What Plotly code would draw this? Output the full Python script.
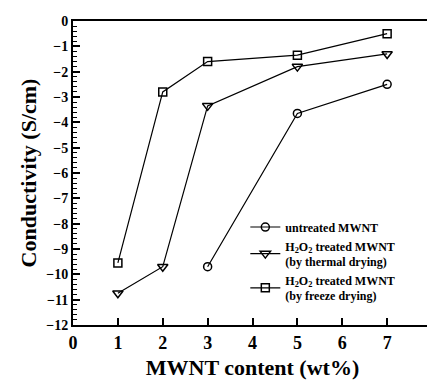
import plotly.graph_objects as go

x_vals = [1, 2, 3, 5, 7]
x_untreated = [3, 5, 7]
untreated = [-9.7, -3.65, -2.5]
thermal = [-10.75, -9.7, -3.35, -1.8, -1.3]
freeze = [-9.55, -2.8, -1.6, -1.35, -0.5]

names = [
    "<b>untreated MWNT</b>",
    "<b>H<sub>2</sub>O<sub>2</sub> treated MWNT<br>(by thermal drying)</b>",
    "<b>H<sub>2</sub>O<sub>2</sub> treated MWNT<br>(by freeze drying)</b>",
]

FONT = "Liberation Serif"
fig = go.Figure()
fig.add_trace(go.Scatter(x=x_untreated, y=untreated, mode="lines+markers", name=names[0],
                         line=dict(color="black", width=1.2),
                         marker=dict(symbol="circle-open", size=8, color="black", line=dict(width=1.5))))
fig.add_trace(go.Scatter(x=x_vals, y=thermal, mode="lines+markers", name=names[1],
                         line=dict(color="black", width=1.2),
                         marker=dict(symbol="triangle-down-open", size=9, color="black", line=dict(width=1.5))))
fig.add_trace(go.Scatter(x=x_vals, y=freeze, mode="lines+markers", name=names[2],
                         line=dict(color="black", width=1.2),
                         marker=dict(symbol="square-open", size=8, color="black", line=dict(width=1.5))))

fig.update_layout(
    width=435, height=387,
    margin=dict(l=65, r=6, t=13, b=70),
    plot_bgcolor="white", paper_bgcolor="white",
    font=dict(family=FONT, color="black", size=14),
    showlegend=True,
    legend=dict(x=0.48, y=0.37, xanchor="left", yanchor="top",
                bgcolor="rgba(0,0,0,0)", font=dict(size=12, family=FONT),
                tracegroupgap=0, itemwidth=30),
    xaxis=dict(range=[0, 8], dtick=1, tick0=0, showgrid=False, zeroline=False,
               showline=True, linecolor="black", linewidth=2, mirror=True,
               ticks="inside", ticklen=7, tickwidth=1.5, tickcolor="black",
               tickfont=dict(size=18, family=FONT),
               tickprefix="<b>", ticksuffix="</b>",
               title=dict(text="<b>MWNT content (wt%)</b>", font=dict(size=22, family=FONT), standoff=8)),
    yaxis=dict(range=[-12, 0], dtick=1, tick0=0, showgrid=False, zeroline=False,
               showline=True, linecolor="black", linewidth=2, mirror=True,
               ticks="inside", ticklen=7, tickwidth=1.5, tickcolor="black",
               tickfont=dict(size=14, family=FONT),
               tickprefix="<b>", ticksuffix="</b>",
               minor=dict(ticks="inside", ticklen=4, dtick=0.2, tickcolor="black", tickwidth=1),
               title=dict(text="<b>Conductivity (S/cm)</b>", font=dict(size=22, family=FONT), standoff=4)),
)

fig.write_html("out.html")
